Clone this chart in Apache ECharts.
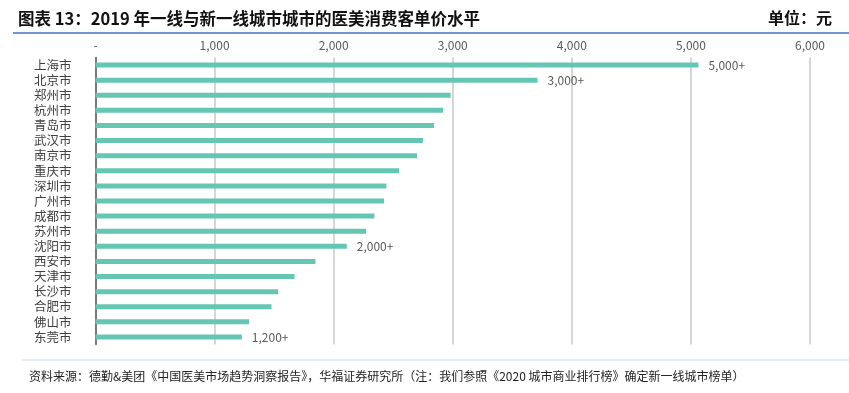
<!DOCTYPE html>
<html><head><meta charset="utf-8">
<script src="https://cdn.jsdelivr.net/npm/echarts@6/dist/echarts.min.js"></script>
<style>html,body{margin:0;padding:0;background:#fff}#c{width:849px;height:393px}</style>
</head><body><div id="c"></div>
<script>
const cities = ['上海市','北京市','郑州市','杭州市','青岛市','武汉市','南京市','重庆市','深圳市','广州市','成都市','苏州市','沈阳市','西安市','天津市','长沙市','合肥市','佛山市','东莞市'];
const prices = [5063,3712,2982,2918,2843,2750,2700,2549,2443,2423,2342,2272,2110,1847,1671,1534,1478,1290,1229];
const barLabels = ['5,000+','3,000+','','','','','','','','','','','2,000+','','','','','','1,200+'];
const tickFmt = v => v === 0 ? '-' : v.toLocaleString('en-US');

const chart = echarts.init(document.getElementById('c'));
const font = '"Noto Sans CJK SC", "Noto Sans", sans-serif';
chart.setOption({
  animation: false,
  textStyle: { fontFamily: font },
  title: [
    { text: '图表 13：2019 年一线与新一线城市城市的医美消费客单价水平', left: 13, top: 5,
      textStyle: { fontSize: 16.5, fontWeight: 'bold', color: '#111', fontFamily: font } },
    { text: '单位：元', right: 12, top: 5,
      textStyle: { fontSize: 16, fontWeight: 'bold', color: '#111', fontFamily: font } },
    { text: '资料来源：德勤&美团《中国医美市场趋势洞察报告》，华福证券研究所（注：我们参照《2020 城市商业排行榜》确定新一线城市榜单）', left: 24, top: 365,
      textStyle: { fontSize: 12, fontWeight: 'normal', color: '#222', fontFamily: font } }
  ],
  graphic: [
    { type: 'line', shape: { x1: 13, y1: 33, x2: 849, y2: 33 }, style: { stroke: '#4472C4', lineWidth: 1.5 } },
    { type: 'line', shape: { x1: 22, y1: 360, x2: 849, y2: 360 }, style: { stroke: '#DCE6F2', lineWidth: 1.5 } }
  ],
  grid: { left: 95.5, right: 39, top: 57.5, bottom: 48.5, containLabel: false },
  xAxis: {
    type: 'value', position: 'top', min: 0, max: 6000, interval: 1000,
    axisLine: { show: false }, axisTick: { show: false },
    axisLabel: { formatter: tickFmt, color: '#595959', fontSize: 12, margin: 6, fontFamily: font },
    splitLine: { lineStyle: { color: '#C8C8C8', width: 1.5 } }
  },
  yAxis: {
    type: 'category', inverse: true, data: cities,
    axisLine: { show: true, lineStyle: { color: '#595959', width: 1.5 } },
    axisTick: { show: false },
    axisLabel: { interval: 0, color: '#404040', fontSize: 12.5, margin: 24, fontFamily: font }
  },
  series: [{
    type: 'bar', barWidth: 5,
    itemStyle: { color: '#66C6B4' },
    data: prices.map((v, i) => ({
      value: v,
      label: { show: barLabels[i] !== '', position: 'right', distance: 10,
        formatter: () => barLabels[i], color: '#595959', fontSize: 12, fontFamily: font }
    }))
  }]
});
</script></body></html>
